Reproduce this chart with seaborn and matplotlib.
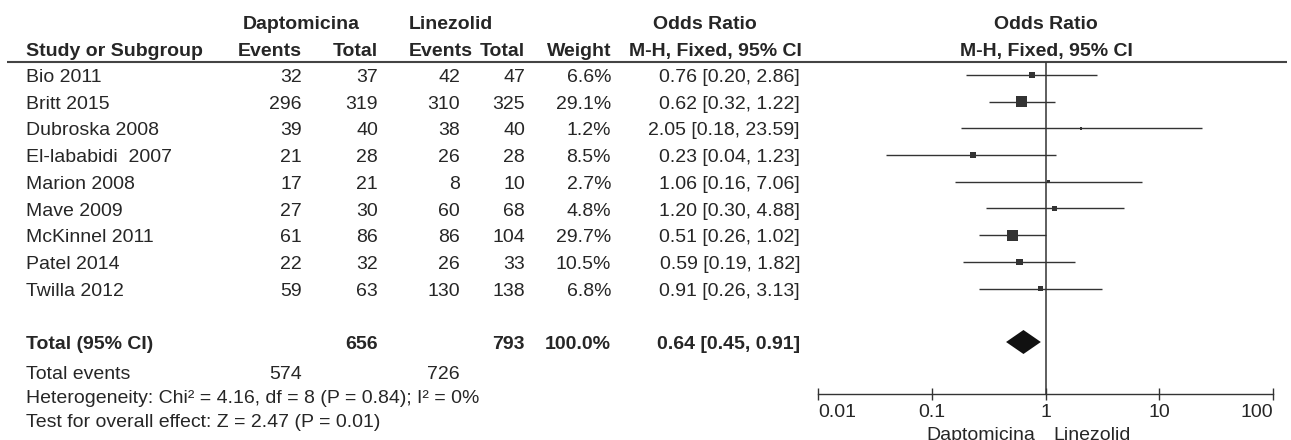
import numpy as np
import pandas as pd
import matplotlib
matplotlib.use("Agg")
import matplotlib.pyplot as plt
import seaborn as sns

# ---------------- data ----------------
studies = ["Bio 2011", "Britt 2015", "Dubroska 2008", "El-lababidi  2007", "Marion 2008",
           "Mave 2009", "McKinnel 2011", "Patel 2014", "Twilla 2012"]
dap_events = [32, 296, 39, 21, 17, 27, 61, 22, 59]
dap_total = [37, 319, 40, 28, 21, 30, 86, 32, 63]
lin_events = [42, 310, 38, 26, 8, 60, 86, 26, 130]
lin_total = [47, 325, 40, 28, 10, 68, 104, 33, 138]
weights = [6.6, 29.1, 1.2, 8.5, 2.7, 4.8, 29.7, 10.5, 6.8]
odds = [0.76, 0.62, 2.05, 0.23, 1.06, 1.20, 0.51, 0.59, 0.91]
ci_low = [0.20, 0.32, 0.18, 0.04, 0.16, 0.30, 0.26, 0.19, 0.26]
ci_high = [2.86, 1.22, 23.59, 1.23, 7.06, 4.88, 1.02, 1.82, 3.13]

total_dap, total_lin = 656, 793
total_weight = "100.0%"
pooled_or, pooled_low, pooled_high = 0.64, 0.45, 0.91
events_dap, events_lin = 574, 726
heterogeneity = "Heterogeneity: Chi\u00b2 = 4.16, df = 8 (P = 0.84); I\u00b2 = 0%"
overall = "Test for overall effect: Z = 2.47 (P = 0.01)"
tick_vals = [0.01, 0.1, 1, 10, 100]
tick_labels = ["0.01", "0.1", "1", "10", "100"]

# ---------------- style ----------------
sns.set_theme(style="white")
plt.rcParams["font.family"] = ["Liberation Sans", "DejaVu Sans"]

W, H = 1291, 440
fig = plt.figure(figsize=(W / 100, H / 100), dpi=100)
FS = 14
TXT = "#262626"
INK = "#333333"

tab = fig.add_axes([0, 0, 1, 1])
tab.set_xlim(0, W)
tab.set_ylim(H, 0)
tab.axis("off")


def t(x, y, s, ha="left", bold=False):
    # y is the visual centre of capitals; convert to baseline
    tab.text(x, y + 7, str(s), ha=ha, va="baseline", fontsize=FS,
             fontweight="bold" if bold else "normal", color=TXT)


# header
t(301, 22, "Daptomicina", ha="center", bold=True)
t(451, 22, "Linezolid", ha="center", bold=True)
t(705, 22, "Odds Ratio", ha="center", bold=True)
t(1046, 22, "Odds Ratio", ha="center", bold=True)
t(26, 49, "Study or Subgroup", bold=True)
t(302, 49, "Events", ha="right", bold=True)
t(378, 49, "Total", ha="right", bold=True)
t(473, 49, "Events", ha="right", bold=True)
t(525, 49, "Total", ha="right", bold=True)
t(611, 49, "Weight", ha="right", bold=True)
t(802, 49, "M-H, Fixed, 95% CI", ha="right", bold=True)
t(1046, 49, "M-H, Fixed, 95% CI", ha="center", bold=True)
tab.plot([7, 1287], [62, 62], color="#444444", lw=1.5, solid_capstyle="butt")

row_y = 75 + 26.7 * np.arange(len(studies))
for i, name in enumerate(studies):
    y = row_y[i]
    t(26, y, name)
    t(302, y, dap_events[i], ha="right")
    t(378, y, dap_total[i], ha="right")
    t(460, y, lin_events[i], ha="right")
    t(525, y, lin_total[i], ha="right")
    t(611, y, f"{weights[i]:.1f}%", ha="right")
    t(800, y, f"{odds[i]:.2f} [{ci_low[i]:.2f}, {ci_high[i]:.2f}]", ha="right")

y_tot = 342
t(26, y_tot, "Total (95% CI)", bold=True)
t(378, y_tot, total_dap, ha="right", bold=True)
t(525, y_tot, total_lin, ha="right", bold=True)
t(611, y_tot, total_weight, ha="right", bold=True)
t(800, y_tot, f"{pooled_or:.2f} [{pooled_low:.2f}, {pooled_high:.2f}]", ha="right", bold=True)
t(26, 372, "Total events")
t(302, 372, events_dap, ha="right")
t(460, 372, events_lin, ha="right")
t(26, 396, heterogeneity)
t(26, 420, overall)

# bottom axis captions (cut by the lower edge, as in the source)
tab.text(1035, 440, "Daptomicina", ha="right", va="baseline", fontsize=FS, color=TXT)
tab.text(1053, 440, "Linezolid", ha="left", va="baseline", fontsize=FS, color=TXT)

# ---------------- forest plot ----------------
x0, x1 = 818, 1273
ytop, ybot = 62, 394
ax = fig.add_axes([x0 / W, (H - ybot) / H, (x1 - x0) / W, (ybot - ytop) / H])
ax.patch.set_alpha(0)

df = pd.DataFrame({"or": odds, "lo": ci_low, "hi": ci_high, "w": weights, "y": row_y})
ax.hlines(df["y"], df["lo"], df["hi"], color=INK, lw=1.0)
amax = (11 * 0.72) ** 2
sns.scatterplot(data=df, x="or", y="y", size="w", sizes=(0, amax),
                size_norm=(0, max(weights)), marker="s", color=INK,
                linewidth=0, legend=False, ax=ax, zorder=3)

ax.fill([pooled_low, pooled_or, pooled_high, pooled_or],
        [y_tot, y_tot - 12, y_tot, y_tot + 12], color="#111111", lw=0, zorder=3)
ax.axvline(1, color=INK, lw=1.1, zorder=2)

ax.set_xscale("log")
ax.set_xlim(tick_vals[0], tick_vals[-1])
ax.set_ylim(ybot, ytop)
ax.set_xticks(tick_vals)
ax.set_xticklabels(tick_labels)
ax.minorticks_off()
ax.set_yticks([])
ax.set_xlabel("")
ax.set_ylabel("")
for s in ["top", "left", "right"]:
    ax.spines[s].set_visible(False)
ax.spines["bottom"].set_color(INK)
ax.spines["bottom"].set_linewidth(1.0)
ax.tick_params(axis="x", direction="inout", length=8, width=1.0, color=INK,
               labelsize=FS, labelcolor=TXT, pad=3, bottom=True)
labs = ax.get_xticklabels()
labs[0].set_ha("left")
labs[-1].set_ha("right")

fig.savefig("out.png", dpi=100)
